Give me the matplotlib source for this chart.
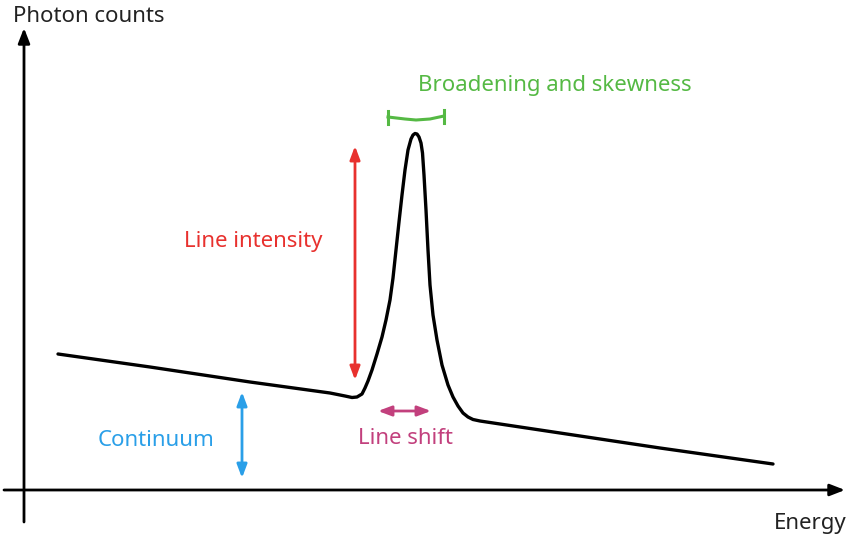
import matplotlib
matplotlib.use("Agg")
import matplotlib.pyplot as plt

plt.rcParams['font.family'] = ['Noto Sans', 'DejaVu Sans']

# Spectrum curve (schematic; y grows downward in picture coords)
curve_x = [58, 150, 250, 330, 345, 352, 357, 362, 365, 368, 372, 377, 382, 386, 390, 393, 396, 399, 402, 405, 408, 411, 413, 415, 417, 419, 421, 422.5, 424, 426, 428, 430, 433, 437, 442, 448, 453, 458, 463, 468, 473, 480, 560, 660, 773]
curve_y = [354, 367, 382, 393, 396, 397.5, 397, 394, 388, 381, 370, 354, 337, 320, 300, 278, 250, 222, 195, 170, 150, 139, 135, 133.5, 134, 137, 143, 153, 175, 210, 250, 285, 315, 340, 365, 385, 397, 406, 413, 417, 419.5, 421, 433, 448, 464]

# Annotations
labels = ["Line intensity", "Broadening and skewness", "Continuum", "Line shift"]
label_pos = [(253, 241), (555, 86), (156, 440), (405, 438)]
label_colors = ["#e8312e", "#55b944", "#2a9fe8", "#c2407d"]

fig = plt.figure(figsize=(8.48, 5.38), dpi=100)
ax = fig.add_axes([0, 0, 1, 1])
ax.set_xlim(0, 848)
ax.set_ylim(538, 0)
ax.axis('off')

# axes arrows
ax.annotate('', xy=(24, 28), xytext=(24, 522),
            arrowprops=dict(arrowstyle='-|>,head_length=0.9,head_width=0.35', lw=2, color='black', shrinkA=0, shrinkB=0))
ax.annotate('', xy=(845, 490), xytext=(4, 490),
            arrowprops=dict(arrowstyle='-|>,head_length=0.9,head_width=0.35', lw=2, color='black', shrinkA=0, shrinkB=0))
ax.text(13, 16, "Photon counts", fontsize=16, ha='left', va='center', color='#222222')
ax.text(847, 523, "Energy", fontsize=16, ha='right', va='center', color='#222222')

# curve
ax.plot(curve_x, curve_y, color='black', lw=2.4, solid_joinstyle='round', solid_capstyle='round')

# red intensity arrow
ax.annotate('', xy=(355, 146), xytext=(355, 380),
            arrowprops=dict(arrowstyle='<|-|>,head_length=0.8,head_width=0.3', lw=2, color=label_colors[0], shrinkA=0, shrinkB=0))
# blue continuum arrow
ax.annotate('', xy=(242, 392), xytext=(242, 478),
            arrowprops=dict(arrowstyle='<|-|>,head_length=0.8,head_width=0.3', lw=2, color=label_colors[2], shrinkA=0, shrinkB=0))
# magenta shift arrow
ax.annotate('', xy=(378, 411), xytext=(431, 411),
            arrowprops=dict(arrowstyle='<|-|>,head_length=0.8,head_width=0.3', lw=2, color=label_colors[3], shrinkA=0, shrinkB=0))
# green broadening bracket
ax.plot([388, 405, 416, 430, 444], [117, 119, 120, 119, 116], color=label_colors[1], lw=2.2)
ax.plot([388, 388], [111, 124], color=label_colors[1], lw=2.2)
ax.plot([444, 444], [110, 123], color=label_colors[1], lw=2.2)

for t, (x, y), c in zip(labels, label_pos, label_colors):
    ax.text(x, y, t, fontsize=16, ha='center', va='center', color=c)

fig.savefig('out.png', dpi=100)
